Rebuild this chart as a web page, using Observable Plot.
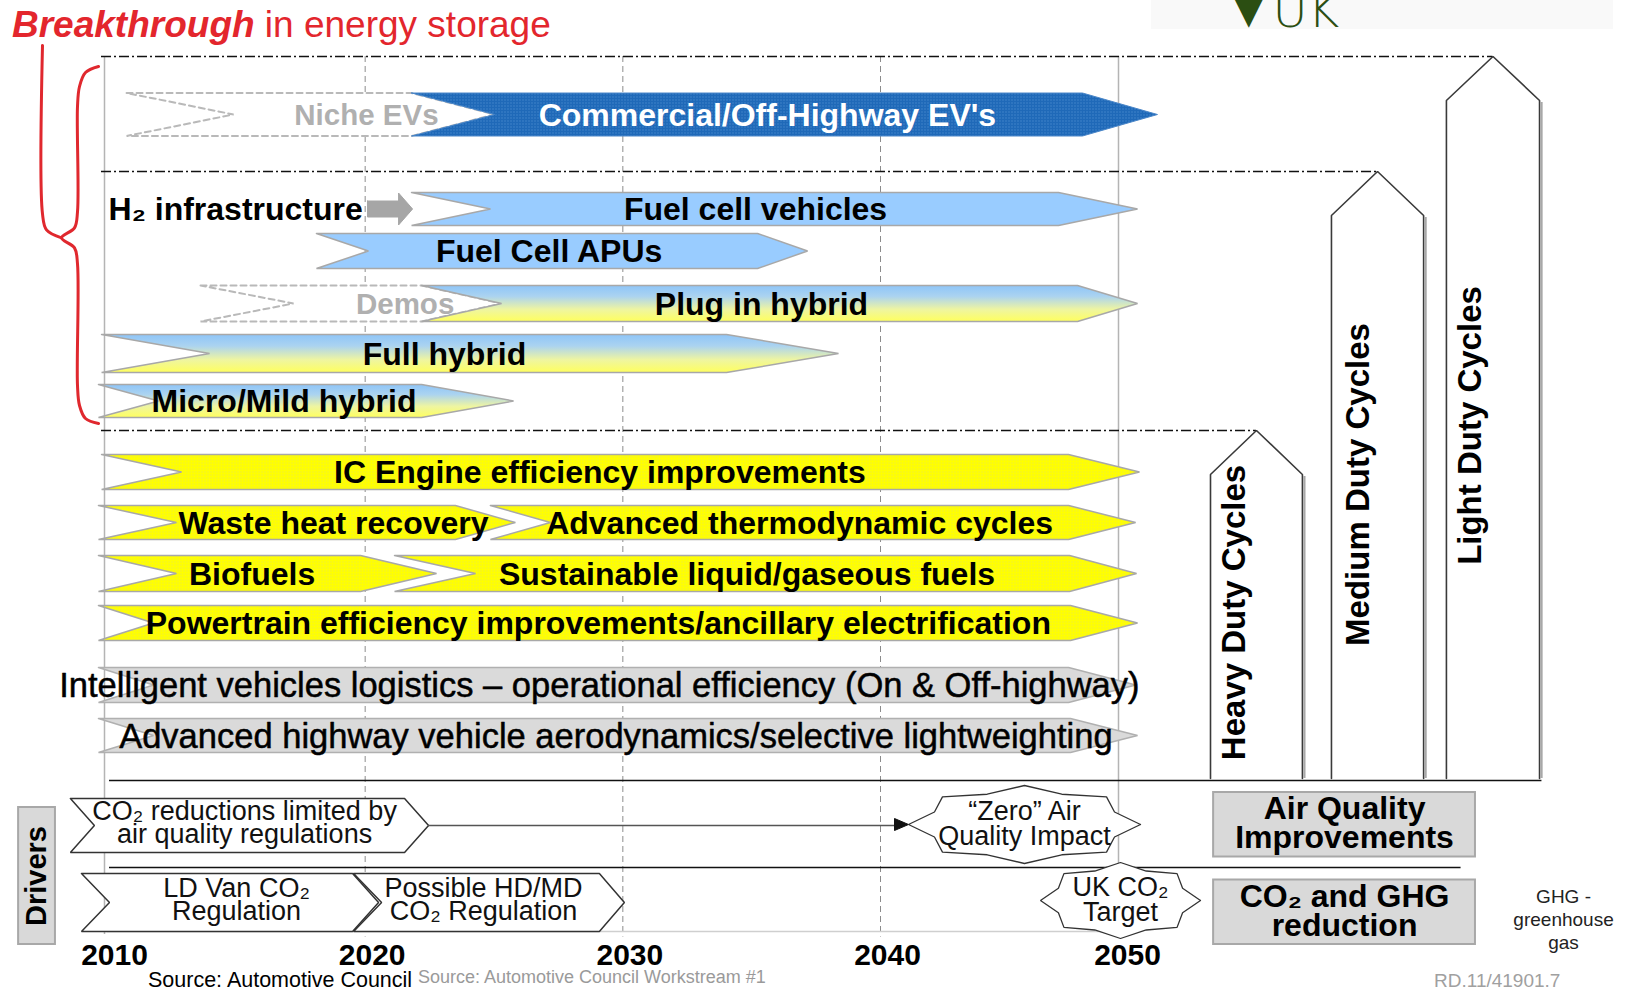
<!DOCTYPE html>
<html>
<head>
<meta charset="utf-8">
<script src="https://cdn.jsdelivr.net/npm/d3@7"></script>
<script src="https://cdn.jsdelivr.net/npm/@observablehq/plot@0.6"></script>
<style>
  html, body { margin: 0; padding: 0; background: #fff; overflow: hidden; }
  body { font-family: "Liberation Sans", Arial, Helvetica, sans-serif; }
  #wrap { position: relative; width: 1626px; height: 993px; overflow: hidden; }
  #title { position: absolute; left: 12px; top: 6px; font-size: 37px; line-height: 1; color: #e3262d; white-space: nowrap; }
  #title b { font-style: italic; }
  #uk { position: absolute; left: 1151px; top: 0; width: 462px; height: 29px; background: #f9f9f9; overflow: hidden; }
  #uk span { position: absolute; left: 74px; top: -14px; font-size: 48px; line-height: 1; color: #2b4e12; font-family: "DejaVu Sans", sans-serif; font-weight: 300; }
  #chart { position: absolute; left: 0; top: 48px; }
  .cap { position: absolute; line-height: 1; white-space: nowrap; }
</style>
</head>
<body>
<div id="wrap">
  <div id="title"><b>Breakthrough</b> in energy storage</div>
  <div id="uk"><span>▼UK</span></div>
  <div id="chart"></div>
  <div class="cap" style="left:148px; top:970px; font-size:21.5px; color:#000;">Source: Automotive Council</div>
  <div class="cap" style="left:418px; top:968px; font-size:18px; color:#9a9a9a;">Source: Automotive Council Workstream #1</div>
  <div class="cap" style="left:1434px; top:971px; font-size:19px; color:#a0a0a0;">RD.11/41901.7</div>
</div>
<script>
// ---------------- data ----------------
const years = [2010, 2020, 2030, 2040, 2050];

// lanes: dash-dot dividers (top of light / medium / heavy duty classes) and solid dividers
const separators = [-1.16, 1.14, 6.32];
const dividers = [13.32, 15.06];
const gridBottom = 16.34;
const axisLane = 16.82;

const evArrows = [
  {label: "Niche EVs", lane: 0, start: 2010.74, end: 2025.02, at: 2020.05, kind: "ghost"},
  {label: "Commercial/Off-Highway EV's", lane: 0, start: 2021.80, end: 2051.54, at: 2035.61, kind: "ev"}
];
const hybridArrows = [
  {label: "Fuel cell vehicles", lane: 1.89, start: 2021.80, end: 2050.71, at: 2035.15, kind: "fc"},
  {label: "Fuel Cell APUs", lane: 2.73, start: 2018.11, end: 2037.17, at: 2027.14, kind: "fc"},
  {label: "Demos", lane: 3.78, start: 2013.61, end: 2025.29, at: 2021.55, kind: "ghost"},
  {label: "Plug in hybrid", lane: 3.78, start: 2022.19, end: 2050.71, at: 2035.38, kind: "hybrid"},
  {label: "Full hybrid", lane: 4.78, start: 2009.77, end: 2038.37, at: 2023.08, kind: "hybrid"},
  {label: "Micro/Mild hybrid", lane: 5.73, start: 2009.65, end: 2025.76, at: 2016.85, kind: "hybrid"}
];
const engineArrows = [
  {label: "IC Engine efficiency improvements", lane: 7.15, start: 2009.77, end: 2050.79, at: 2029.11, kind: "ice"},
  {label: "Waste heat recovery", lane: 8.16, start: 2009.65, end: 2025.83, at: 2018.77, kind: "ice"},
  {label: "Advanced thermodynamic cycles", lane: 8.16, start: 2024.86, end: 2050.63, at: 2036.86, kind: "ice"},
  {label: "Biofuels", lane: 9.18, start: 2009.65, end: 2022.77, at: 2015.61, kind: "ice"},
  {label: "Sustainable liquid/gaseous fuels", lane: 9.18, start: 2021.14, end: 2050.67, at: 2034.82, kind: "ice"},
  {label: "Powertrain efficiency improvements/ancillary electrification", lane: 10.17, start: 2009.65, end: 2050.71, at: 2029.05, kind: "ice"}
];
const vehicleArrows = [
  {label: "Intelligent vehicles logistics – operational efficiency (On & Off-highway)", lane: 11.41, start: 2009.65, end: 2050.63, at: 2029.09, kind: "veh"},
  {label: "Advanced highway vehicle aerodynamics/selective lightweighting", lane: 12.42, start: 2009.65, end: 2050.71, at: 2029.73, kind: "veh"}
];
const h2Infra = [{label: "H₂ infrastructure", lane: 1.89, start: 2020.09, end: 2021.84, at: 2010.04}];

const dutyCycles = [
  {label: "Heavy Duty Cycles", from: 2053.75, to: 2057.58, reach: 2, at: 2054.75, atLane: 9.96},
  {label: "Medium Duty Cycles", from: 2058.79, to: 2062.63, reach: 1, at: 2059.92, atLane: 7.40},
  {label: "Light Duty Cycles", from: 2063.58, to: 2067.46, reach: 0, at: 2064.58, atLane: 6.22}
];

const drivers = [
  {label: "CO₂ reductions limited by\nair quality regulations", lane: 14.22, start: 2008.56, end: 2022.46, at: 2015.32, textLane: 14.20},
  {label: "LD Van CO₂\nRegulation", lane: 15.76, start: 2008.99, end: 2020.52, at: 2015.01, textLane: 15.73},
  {label: "Possible HD/MD\nCO₂ Regulation", lane: 15.76, start: 2019.55, end: 2030.06, at: 2024.59, textLane: 15.73}
];
const targets = [
  {label: "“Zero” Air\nQuality Impact", year: 2046, lane: 14.20},
  {label: "UK CO₂\nTarget", year: 2050, lane: 15.72}
];
const outcomes = [
  {label: "Air Quality\nImprovements", from: 2053.88, to: 2064.79, lane: 14.20},
  {label: "CO₂ and GHG\nreduction", from: 2053.88, to: 2064.79, lane: 15.95}
];
const driversTag = [{label: "Drivers", from: 2006.55, to: 2007.98, top: 13.86, bottom: 16.60}];
const ghgNote = [{label: "GHG -\ngreenhouse\ngas", year: 2068.46, lane: 16.08}];

// ---------------- scales & geometry helpers ----------------
const xOpts = {type: "linear", domain: [2010, 2040, 2050], range: [107, 880, 1120]};
const yOpts = {type: "linear", domain: [-1.32, 17.58], range: [0, 945]};
// same mapping as the Plot scales below, used to offset shapes by pixel amounts
const xs = d3.scaleLinear().domain(xOpts.domain).range(xOpts.range);
const ys = d3.scaleLinear().domain(yOpts.domain).range(yOpts.range);
const px = (v, d = 0) => xs.invert(xs(v) + d);
const py = (v, d = 0) => ys.invert(ys(v) + d);

// shape sizes (px): notch depth, tip length, half height
const shapeSize = {
  "Niche EVs": [107, 83, 21.5],
  "Commercial/Off-Highway EV's": [83, 75, 21.5],
  "Fuel cell vehicles": [79, 79, 16.5],
  "Fuel Cell APUs": [52, 50, 17.5],
  "Demos": [93, 80, 18],
  "Plug in hybrid": [80, 60, 18],
  "Full hybrid": [108, 112, 19],
  "Micro/Mild hybrid": [60, 92, 16.5],
  "IC Engine efficiency improvements": [80, 71, 17.5],
  "Waste heat recovery": [78, 60, 17],
  "Advanced thermodynamic cycles": [60, 67, 17],
  "Biofuels": [78, 76, 18],
  "Sustainable liquid/gaseous fuels": [81, 67, 18],
  "Powertrain efficiency improvements/ancillary electrification": [55, 67, 17.5],
  "Intelligent vehicles logistics – operational efficiency (On & Off-highway)": [55, 67, 17.5],
  "Advanced highway vehicle aerodynamics/selective lightweighting": [55, 67, 17]
};
const driverSize = [[24, 24, 27], [28, 26, 29], [28, 25, 29]];

function chevron(s, e, lane, notch, tip, hh) {
  const pts = [
    [s, py(lane, -hh)], [px(e, -tip), py(lane, -hh)], [e, lane],
    [px(e, -tip), py(lane, hh)], [s, py(lane, hh)], [px(s, notch), lane], [s, py(lane, -hh)]
  ];
  return pts.map(([x, y]) => ({x, y}));
}
function star(cx, cl, rx, ry, n = 8, inner = 0.84) {
  const X = xs(cx), Y = ys(cl), pts = [];
  for (let k = 0; k <= 2 * n; k++) {
    const a = Math.PI * k / n, r = k % 2 ? inner : 1;
    pts.push({x: xs.invert(X + rx * r * Math.cos(a)), y: ys.invert(Y - ry * r * Math.sin(a))});
  }
  return pts;
}

const style = {
  ghost: {fill: "white", stroke: "#b9b9b9", strokeDasharray: "6,4", strokeWidth: 2, text: "#b0b0b0"},
  ev: {fill: "url(#evPat)", stroke: "#4a86c8", strokeWidth: 1, text: "white"},
  fc: {fill: "#99ccff", stroke: "#a8a8a8", strokeWidth: 1.5, text: "black"},
  hybrid: {fill: "url(#hyGrad)", stroke: "#a8a8a8", strokeWidth: 1.5, text: "black"},
  ice: {fill: "url(#icePat)", stroke: "#a8a8a8", strokeWidth: 1.5, text: "black"},
  veh: {fill: "#dadada", stroke: "#b0b0b0", strokeWidth: 1.5, text: "black"}
};

// ---------------- marks ----------------
const marks = [];
const apexLane = (d) => separators[d.reach];
const mid = (d) => (d.from + d.to) / 2;

// vertical year grid
marks.push(Plot.ruleX(years.slice(1, 4), {y1: separators[0], y2: 16.45, stroke: "#8c8c8c", strokeDasharray: "6,4", strokeWidth: 1}));
marks.push(Plot.ruleX([years[0]], {y1: separators[0], y2: 16.4, stroke: "#b4b4b4", strokeWidth: 1.5, dx: -3}));
marks.push(Plot.ruleX([years[4]], {y1: separators[0], y2: gridBottom, stroke: "#b4b4b4", strokeWidth: 1.5, dx: -2}));
marks.push(Plot.ruleY([gridBottom], {x1: years[0], x2: years[4], stroke: "#cfcfcf", strokeWidth: 1.5}));

// dash-dot class separators ending at the duty-cycle apex
const sepRows = dutyCycles.map(d => ({lane: apexLane(d), end: mid(d)}));
marks.push(Plot.ruleY(sepRows, {y: "lane", x1: px(years[0], -6), x2: "end", stroke: "#111", strokeDasharray: "10,3,2,3", strokeWidth: 1.3}));

// solid dividers
marks.push(Plot.ruleY([dividers[0]], {x1: px(years[0], 2), x2: dutyCycles[2].to + 0.1, stroke: "#111", strokeWidth: 1.6}));
marks.push(Plot.ruleY([dividers[1]], {x1: px(years[0], 2), x2: outcomes[0].to - 0.6, stroke: "#111", strokeWidth: 1.6}));

// duty cycle arrows
for (const d of dutyCycles) {
  const top = apexLane(d), bottom = py(dividers[0], -2);
  const pts = [[d.from, bottom], [d.from, py(top, 44)], [mid(d), top], [d.to, py(top, 44)], [d.to, bottom]].map(([x, y]) => ({x, y}));
  marks.push(Plot.line(pts, {x: "x", y: "y", fill: "white", stroke: "#3a3a3a", strokeWidth: 1.6, strokeLinejoin: "miter"}));
  marks.push(Plot.ruleX([d.to], {y1: py(top, 46), y2: bottom, stroke: "#a8a8a8", strokeWidth: 2.2, dx: 2}));
}
marks.push(Plot.text(dutyCycles, {x: "at", y: "atLane", text: "label", rotate: -90, fontSize: 33, fontWeight: "bold", fill: "#000"}));

// red brace grouping the energy-storage rows
{
  const X0 = xs(years[0]);
  const yt = ys(separators[0]) + 10, yb = ys(separators[2]) - 7;
  const ym = yt + 0.48 * (yb - yt);
  const xr = X0 - 9, xv = X0 - 30, xc = X0 - 46, xl = X0 - 65;
  const toData = a => a.map(([x, y]) => ({x: xs.invert(x), y: ys.invert(y)}));
  const right = toData([[xr, yt], [xv + 8, yt + 6], [xv + 2, yt + 20], [xv, yt + 40], [xv, ym - 26], [xv - 3, ym - 10], [xc, ym],
    [xv - 3, ym + 10], [xv, ym + 26], [xv, yb - 38], [xv + 2, yb - 18], [xv + 8, yb - 5], [xr, yb]]);
  const left = toData([[xl, yt - 21], [xl, ym - 24], [xl + 4, ym - 8], [xc, ym]]);
  marks.push(Plot.line(right, {x: "x", y: "y", stroke: "#e0282e", strokeWidth: 3, curve: "catmull-rom"}));
  marks.push(Plot.line(left, {x: "x", y: "y", stroke: "#e0282e", strokeWidth: 3, curve: "catmull-rom"}));
}

// roadmap arrows
const allArrows = [...evArrows, ...hybridArrows, ...engineArrows, ...vehicleArrows];
for (const a of allArrows) {
  const [notch, tip, hh] = shapeSize[a.label];
  const st = style[a.kind];
  marks.push(Plot.line(chevron(a.start, a.end, a.lane, notch, tip, hh), {
    x: "x", y: "y", fill: st.fill, stroke: st.stroke, strokeWidth: st.strokeWidth,
    strokeDasharray: st.strokeDasharray, strokeLinejoin: "miter"
  }));
}
for (const kind of Object.keys(style)) {
  const rows = allArrows.filter(a => a.kind === kind);
  const light = kind === "veh";
  marks.push(Plot.text(rows, {x: "at", y: "lane", text: "label", fontSize: light ? 34.5 : (kind === "ghost" ? 29.5 : 32),
    fontWeight: light ? "normal" : "bold", fill: style[kind].text, dy: 1,
    stroke: light ? "#000" : "none", strokeWidth: light ? 0.5 : 0}));
}

// H2 infrastructure label and grey block arrow
for (const h of h2Infra) {
  const head = 14, sh = 8, hh = 16;
  const pts = [[h.start, py(h.lane, -sh)], [px(h.end, -head), py(h.lane, -sh)], [px(h.end, -head), py(h.lane, -hh)], [h.end, h.lane],
    [px(h.end, -head), py(h.lane, hh)], [px(h.end, -head), py(h.lane, sh)], [h.start, py(h.lane, sh)], [h.start, py(h.lane, -sh)]].map(([x, y]) => ({x, y}));
  marks.push(Plot.line(pts, {x: "x", y: "y", fill: "#a6a6a6", stroke: "#a6a6a6", strokeWidth: 1}));
}
marks.push(Plot.text(h2Infra, {x: "at", y: "lane", text: "label", textAnchor: "start", fontSize: 32, fontWeight: "bold", dy: 1}));

// drivers section
marks.push(Plot.rect(driversTag, {x1: "from", x2: "to", y1: "top", y2: "bottom", fill: "#d9d9d9", stroke: "#a8a8a8", strokeWidth: 2}));
marks.push(Plot.text(driversTag, {x: d => (d.from + d.to) / 2, y: d => (d.top + d.bottom) / 2, text: "label", rotate: -90, fontSize: 29, fontWeight: "bold"}));

drivers.forEach((d, i) => {
  const [notch, tip, hh] = driverSize[i];
  marks.push(Plot.line(chevron(d.start, d.end, d.lane, notch, tip, hh), {x: "x", y: "y", fill: "white", stroke: "#333", strokeWidth: 1.5, strokeLinejoin: "miter"}));
});
marks.push(Plot.text(drivers, {x: "at", y: "textLane", text: "label", fontSize: 27, lineHeight: 0.84, fill: "#111"}));

// link from first driver to the "Zero" air quality target
{
  const z = targets[0], rx = 116;
  const tipX = px(z.year, -rx);
  marks.push(Plot.ruleY([drivers[0].lane], {x1: drivers[0].end, x2: px(z.year, -rx - 10), stroke: "#555", strokeWidth: 1.5}));
  const head = [[tipX, z.lane], [px(z.year, -rx - 14), py(z.lane, -6)], [px(z.year, -rx - 14), py(z.lane, 6)], [tipX, z.lane]].map(([x, y]) => ({x, y}));
  marks.push(Plot.line(head, {x: "x", y: "y", fill: "#111", stroke: "#111", strokeWidth: 1}));
}
const starSize = [[116, 39], [80, 38]];
targets.forEach((t, i) => {
  marks.push(Plot.line(star(t.year, t.lane, starSize[i][0], starSize[i][1]), {x: "x", y: "y", fill: "white", stroke: "#333", strokeWidth: 1.3, strokeLinejoin: "miter"}));
});
marks.push(Plot.text(targets, {x: "year", y: "lane", text: "label", fontSize: 27, lineHeight: 0.94, fill: "#111"}));

marks.push(Plot.rect(outcomes, {x1: "from", x2: "to", y1: d => py(d.lane, -32), y2: d => py(d.lane, 32.5), fill: "#d9d9d9", stroke: "#a8a8a8", strokeWidth: 2}));
marks.push(Plot.text(outcomes, {x: d => (d.from + d.to) / 2, y: "lane", text: "label", fontSize: 32, fontWeight: "bold", lineHeight: 0.9}));
marks.push(Plot.text(ghgNote, {x: "year", y: "lane", text: "label", fontSize: 19, lineHeight: 1.2, fill: "#222"}));

// year labels
marks.push(Plot.text(years, {x: d => d, y: axisLane, text: d => String(d), fontSize: 30, fontWeight: "bold", dx: 7, fill: "#000"}));

const svg = Plot.plot({
  width: 1626, height: 945, margin: 0,
  style: {fontFamily: "'Liberation Sans', Arial, Helvetica, sans-serif", background: "transparent", overflow: "visible"},
  x: {...xOpts, axis: null},
  y: {...yOpts, axis: null},
  marks
});

// gradients and textures referenced by the fills
const defs = d3.select(svg).insert("defs", ":first-child");
const g = defs.append("linearGradient").attr("id", "hyGrad").attr("x1", 0).attr("y1", 0).attr("x2", 0).attr("y2", 1);
[[0, "#8ec5f8"], [0.3, "#abd3f0"], [0.66, "#eef5a2"], [1, "#ffff5e"]].forEach(([o, c]) => g.append("stop").attr("offset", o).attr("stop-color", c));
const ev = defs.append("pattern").attr("id", "evPat").attr("width", 3).attr("height", 3).attr("patternUnits", "userSpaceOnUse");
ev.append("rect").attr("width", 3).attr("height", 3).attr("fill", "#1f69b8");
ev.append("rect").attr("width", 1).attr("height", 1).attr("fill", "#5b98d8");
const ice = defs.append("pattern").attr("id", "icePat").attr("width", 3).attr("height", 3).attr("patternUnits", "userSpaceOnUse");
ice.append("rect").attr("width", 3).attr("height", 3).attr("fill", "#ffff00");
ice.append("rect").attr("width", 1).attr("height", 1).attr("fill", "#e4e45a");

document.getElementById("chart").appendChild(svg);
</script>
</body>
</html>
